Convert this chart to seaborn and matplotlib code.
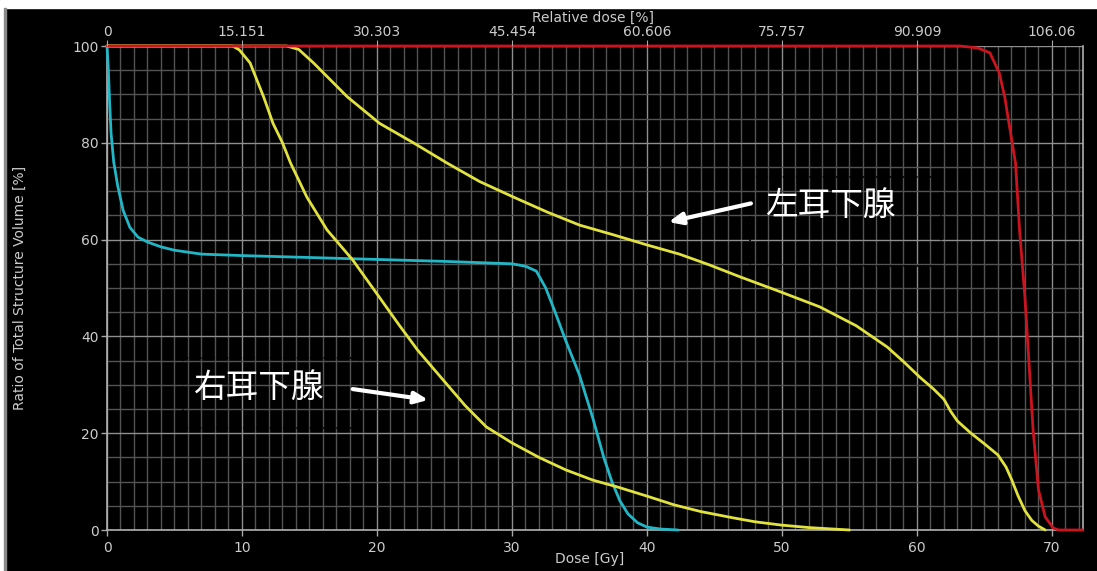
import matplotlib
matplotlib.use("Agg")
import matplotlib.pyplot as plt
from matplotlib.ticker import MultipleLocator
from matplotlib.patches import Rectangle
import numpy as np
import pandas as pd
import seaborn as sns

# Dose-volume histogram curves (dose in Gy, volume in %)
ptv_dose = [0, 63.2, 64.5, 65.4, 66.1, 66.5, 66.9, 67.3, 67.6, 68.0, 68.3, 68.6,
            69.0, 69.5, 70.1, 70.5, 72.3]
ptv_vol = [100, 100, 99.6, 98.6, 94.4, 89.5, 82.6, 75.8, 62, 48, 34.5, 20.7,
           8.3, 2.7, 0.4, 0, 0]

cord_dose = [0, 0.1, 0.2, 0.3, 0.5, 0.8, 1.2, 1.7, 2.3, 3, 4, 5, 7, 10, 15, 20, 25,
             30, 31, 31.8, 32.5, 33.2, 34, 35, 36, 36.8, 37.4, 38, 38.6, 39.3, 40,
             41, 42.3]
cord_vol = [100, 95, 88, 82, 76, 71, 66, 62.5, 60.5, 59.5, 58.5, 57.8, 57.0, 56.7,
            56.3, 55.9, 55.5, 55.0, 54.5, 53.5, 50, 45, 39, 32, 23, 15, 10, 6, 3.3,
            1.5, 0.6, 0.2, 0]

right_dose = [0, 9.3, 9.8, 10.6, 11.6, 12.3, 13.0, 13.6, 14.8, 16.3, 18.2, 20.2,
              21.6, 23.0, 24.9, 26.5, 28.1, 30, 32, 34, 36, 37.8, 40, 42, 44, 46.4,
              48, 50, 52, 55]
right_vol = [100, 100, 99.2, 96.5, 89.5, 84, 80, 75.8, 68.8, 62, 55.8, 48, 42.5,
             37.2, 31, 25.8, 21.3, 18, 15, 12.4, 10.3, 8.9, 7, 5.2, 3.8, 2.5, 1.7,
             1.0, 0.5, 0]

left_dose = [0, 13.3, 14.2, 15.3, 17.8, 20.2, 22.7, 25.2, 27.6, 30.1, 32.6, 35.0,
             37.5, 40, 42.4, 44.6, 46.9, 49.8, 52.8, 55.5, 57.8, 59, 60.2, 61.2,
             62, 62.5, 63, 64, 65, 66, 66.6, 67, 67.5, 68, 68.5, 69, 69.5]
left_vol = [100, 100, 99.3, 96.5, 89.5, 84, 80, 75.8, 72, 68.8, 65.7, 63, 61, 58.9,
            57, 54.8, 52.3, 49.3, 46.1, 42.2, 37.8, 34.8, 31.6, 29.2, 27, 24.5,
            22.5, 20, 17.8, 15.5, 13, 10.5, 7, 4, 2, 0.8, 0]

# Top axis: relative dose labels at every 10 Gy
rel_ticks_gy = [0, 10, 20, 30, 40, 50, 60, 70]
rel_labels = ["0", "15.151", "30.303", "45.454", "60.606", "75.757", "90.909", "106.06"]

sns.set_style("dark")
plt.rcParams["font.family"] = ["DejaVu Sans", "Noto Sans CJK SC"]

TXT = "#cccccc"
W, H = 1097, 571
fig = plt.figure(figsize=(W / 100, H / 100), dpi=100, facecolor="black")

# Frame around the image
fig.patches.append(Rectangle((0, 1 - 8 / H), 1, 8 / H, transform=fig.transFigure,
                             color="white", zorder=0))
fig.patches.append(Rectangle((0, 0), 4 / W, 1 - 8 / H, transform=fig.transFigure,
                             color="white", zorder=0))
fig.patches.append(Rectangle((4 / W, 0), 2 / W, 1 - 8 / H, transform=fig.transFigure,
                             color="#8a8a8a", zorder=1))

ax = fig.add_axes([107 / W, 41 / H, (1083 - 107) / W, (530 - 46) / H])
ax.set_facecolor("black")

curves = [
    ("cord", cord_dose, cord_vol, "#22b7c6"),
    ("right", right_dose, right_vol, "#e2e23e"),
    ("left", left_dose, left_vol, "#e2e23e"),
    ("ptv", ptv_dose, ptv_vol, "#cc1420"),
]
for name, d, v, c in curves:
    df = pd.DataFrame({"dose": d, "volume": v})
    sns.lineplot(data=df, x="dose", y="volume", ax=ax, color=c, lw=2.0,
                 sort=False, estimator=None, zorder=4, clip_on=False)

ax.set_xlim(0, 72.3)
ax.set_ylim(0, 100)
ax.xaxis.set_major_locator(MultipleLocator(10))
ax.xaxis.set_minor_locator(MultipleLocator(1))
ax.yaxis.set_major_locator(MultipleLocator(20))
ax.yaxis.set_minor_locator(MultipleLocator(5))
ax.grid(which="minor", color="#535353", lw=1.0)
ax.grid(which="major", color="#8e8e8e", lw=1.0)
ax.set_axisbelow(True)
ax.set_xlabel("")
ax.set_ylabel("")
ax.tick_params(which="major", colors="#a8a8a8", labelcolor=TXT, labelsize=10,
               length=4, width=1, direction="out", bottom=True, left=True)
ax.tick_params(which="minor", length=0)
ax.tick_params(axis="x", pad=4)
ax.tick_params(axis="y", pad=2)
for side in ("left", "bottom", "right"):
    ax.spines[side].set_visible(True)
    ax.spines[side].set_color("#b0b0b0")
    ax.spines[side].set_linewidth(1.2)
ax.spines["top"].set_visible(False)

top = ax.twiny()
top.set_xlim(ax.get_xlim())
top.set_xticks(rel_ticks_gy)
top.set_xticklabels(rel_labels)
top.tick_params(colors="#a8a8a8", labelcolor=TXT, labelsize=10, length=4,
                direction="out", pad=1, top=True)
for s in top.spines.values():
    s.set_visible(False)
top.grid(False)

# Axis titles
fig.text(590 / W, 1 - 559 / H, "Dose [Gy]", color=TXT, fontsize=10,
         ha="center", va="center")
fig.text(593 / W, 1 - 18 / H, "Relative dose [%]", color=TXT, fontsize=10,
         ha="center", va="center")
fig.text(20 / W, 1 - 288 / H, "Ratio of Total Structure Volume [%]", color=TXT,
         fontsize=10, ha="center", va="center", rotation=90)

# Structure labels with arrows
cjk = ["Noto Sans CJK SC", "DejaVu Sans"]
ax.add_patch(Rectangle((5.6, 21.0), 13.1, 14.5, fill=False, ec="black", lw=1.2,
                       ls=(0, (1, 1)), zorder=3))
ax.text(11.3, 29.3, "右耳下腺", color="white", fontsize=23.5, family=cjk,
        fontweight="light", ha="center", va="center", zorder=6)
ax.annotate("", xy=(24.0, 26.8), xytext=(18.0, 29.2),
            arrowprops=dict(arrowstyle="-|>,head_length=0.8,head_width=0.35",
                            color="white", lw=3), zorder=6)

ax.add_patch(Rectangle((47.6, 54.5), 14.2, 18.5, fill=False, ec="black", lw=1.2,
                       ls=(0, (1, 1)), zorder=3))
ax.text(53.6, 67.0, "左耳下腺", color="white", fontsize=23.5, family=cjk,
        fontweight="light", ha="center", va="center", zorder=6)
ax.annotate("", xy=(41.4, 63.5), xytext=(47.9, 67.6),
            arrowprops=dict(arrowstyle="-|>,head_length=0.8,head_width=0.35",
                            color="white", lw=3), zorder=6)

fig.savefig("out.png", dpi=100, facecolor="black")
